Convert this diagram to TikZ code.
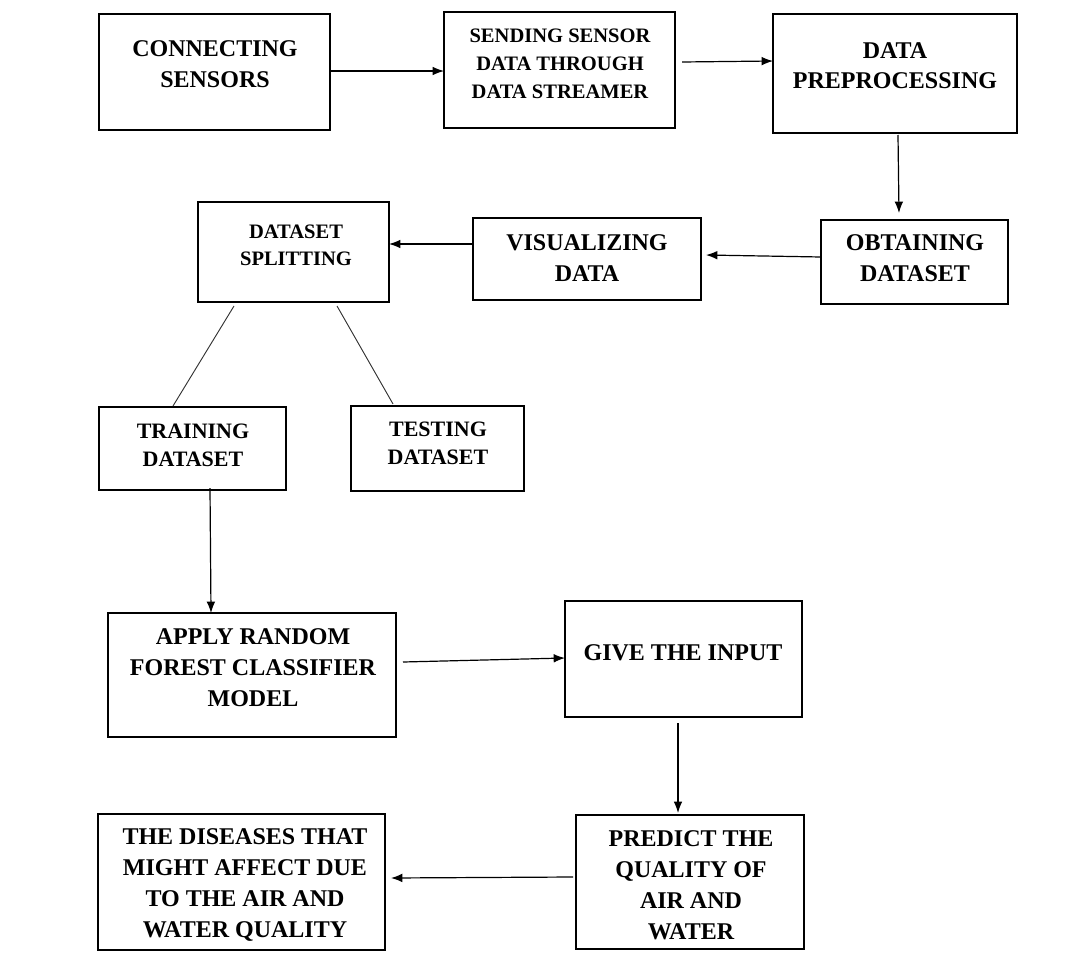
\documentclass[tikz,border=0pt]{standalone}
\usepackage{fontspec}
\setmainfont{Liberation Serif}
\usetikzlibrary{arrows.meta,calc}
\newcommand\bx[5]{\node[box, minimum width={(#4-#2)*0.75pt}, minimum height={(#5-#3)*0.75pt}] (#1) at ({(#2+#4)/2},{(#3+#5)/2}) {};}
\tikzset{
  box/.style={draw, line width=1.7pt, inner sep=0pt, outer sep=0pt},
  txt/.style={align=center, inner sep=0pt, font=\bfseries\fontsize{18}{23.25}\selectfont},
  small/.style={font=\bfseries\fontsize{15.4}{21}\selectfont},
  mid/.style={font=\bfseries\fontsize{16.5}{21}\selectfont},
  arr/.style={line width=0.9pt, -{Latex[length=8.5pt,width=6.5pt]}},
  ln/.style={line width=0.7pt, draw=black!80}
}
\begin{document}
\begin{tikzpicture}[x=0.75pt,y=-0.75pt]
\useasboundingbox (0,0) rectangle (1089,967);
\bx{n1}{99}{14}{330}{130}
\bx{n2}{444}{12}{675}{128}
\bx{n3}{773}{14}{1017}{133}
\bx{n4}{821}{220}{1008}{304}
\bx{n5}{473}{218}{701}{300}
\bx{n6}{198}{202}{389}{302}
\bx{n7}{99}{407}{286}{490}
\bx{n8}{351}{406}{524}{491}
\bx{n9}{108}{613}{396}{737}
\bx{n10}{565}{601}{802}{717}
\bx{n11}{576}{815}{804}{949}
\bx{n12}{98}{814}{385}{950}

\node[txt] (t1) at (215,64) {CONNECTING\\SENSORS};
\node[txt,small] (t2) at (560,64) {SENDING SENSOR\\DATA THROUGH\\DATA STREAMER};
\node[txt,font=\bfseries\fontsize{18}{22.5}\selectfont] (t3) at (895,66) {DATA\\PREPROCESSING};
\node[txt] (t4) at (915,258) {OBTAINING\\DATASET};
\node[txt] (t5) at (587,258) {VISUALIZING\\DATA};
\node[txt,font=\bfseries\fontsize{15.4}{20.25}\selectfont] (t6) at (296,245) {DATASET\\SPLITTING};
\node[txt,mid] (t7) at (193,445) {TRAINING\\DATASET};
\node[txt,mid] (t8) at (438,443) {TESTING\\DATASET};
\node[txt] (t9) at (253,668) {APPLY RANDOM\\FOREST CLASSIFIER\\MODEL};
\node[txt] (t10) at (683,653) {GIVE THE INPUT};
\node[txt] (t11) at (691,885) {PREDICT THE\\QUALITY OF\\AIR AND\\WATER};
\node[txt] (t12) at (245,885) {THE DISEASES THAT\\MIGHT AFFECT DUE\\TO THE AIR AND\\WATER QUALITY};

\draw[arr] (n1.east|-0,71) -- (n2.west|-0,71);
\draw[arr] ($(n2.east|-0,62)+(7,0)$) -- (n3.west|-0,61);
\draw[arr] ($(n3.south-|898,0)+(0,2)$) -- ($(n4.north-|899,0)+(0,-7)$);
\draw[arr] (n4.west|-0,257) -- ($(n5.east|-0,255)+(5,0)$);
\draw[arr] (n5.west|-0,244) -- (n6.east|-0,244);
\draw[ln] ($(n6.south-|234,0)+(0,4)$) -- ($(n7.north-|173,0)+(0,-1)$);
\draw[ln] ($(n6.south-|337,0)+(0,4)$) -- ($(n8.north-|393,0)+(0,-2)$);
\draw[arr] ($(n7.south-|210,0)+(0,-2)$) -- (n9.north-|211,0);
\draw[arr] ($(n9.east|-0,662)+(7,0)$) -- (n10.west|-0,658);
\draw[arr] ($(n10.south-|678,0)+(0,6)$) -- ($(n11.north-|678,0)+(0,-2)$);
\draw[arr] ($(n11.west|-0,877)+(-3,0)$) -- ($(n12.east|-0,878)+(6,0)$);
\end{tikzpicture}
\end{document}
